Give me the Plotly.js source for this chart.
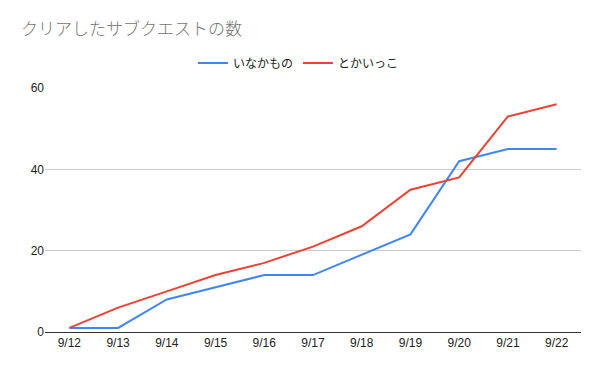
<!DOCTYPE html>
<html><head><meta charset="utf-8">
<script src="https://cdn.plot.ly/plotly-3.0.1.min.js"></script>
<style>html,body{margin:0;padding:0;background:#fff}#c{width:600px;height:371px}</style>
</head><body><div id="c"></div>
<script>
const dates = ["9/12","9/13","9/14","9/15","9/16","9/17","9/18","9/19","9/20","9/21","9/22"];
const inakamono = [1,1,8,11,14,14,19,24,42,45,45];
const tokaikko = [1,6,10,14,17,21,26,35,38,53,56];
const seriesNames = ["いなかもの","とかいっこ"];
const yTicks = [0,20,40,60];

const F = "'Liberation Sans', Arial, 'Noto Sans CJK JP', sans-serif";
const data = [
  {x: dates, y: inakamono, name: seriesNames[0], type: "scatter", mode: "lines", line: {color: "#4285F4", width: 2}},
  {x: dates, y: tokaikko, name: seriesNames[1], type: "scatter", mode: "lines", line: {color: "#EA4335", width: 2}}
];
const layout = {
  width: 600, height: 371,
  margin: {l: 45, r: 19, t: 88, b: 39},
  paper_bgcolor: "#fff", plot_bgcolor: "#fff",
  font: {family: F, size: 12, color: "#222"},
  title: {text: "クリアしたサブクエストの数", x: 0.035, xref: "container", xanchor: "left", y: 0.921, yref: "container", yanchor: "middle",
          font: {family: F, size: 17, color: "#757575", weight: 300}},
  showlegend: true,
  legend: {orientation: "h", x: 0.276, xanchor: "left", y: 1.1025, yanchor: "middle", font: {family: F, size: 12, color: "#222"}, itemwidth: 30, tracegroupgap: 0},
  xaxis: {type: "category", range: [-0.5, 10.5], showgrid: false, zeroline: false, showline: true, linecolor: "#333", linewidth: 1,
          ticks: "", tickfont: {size: 12, color: "#222"}, fixedrange: true},
  yaxis: {range: [0, 60], tickvals: yTicks, ticktext: yTicks.map(String), showgrid: true, gridcolor: "#ccc", gridwidth: 1, zeroline: false,
          showline: false, ticks: "", ticklen: 0, tickfont: {size: 12, color: "#222"}, fixedrange: true}
};
Plotly.newPlot("c", data, layout, {displayModeBar: false, staticPlot: true});
</script></body></html>
